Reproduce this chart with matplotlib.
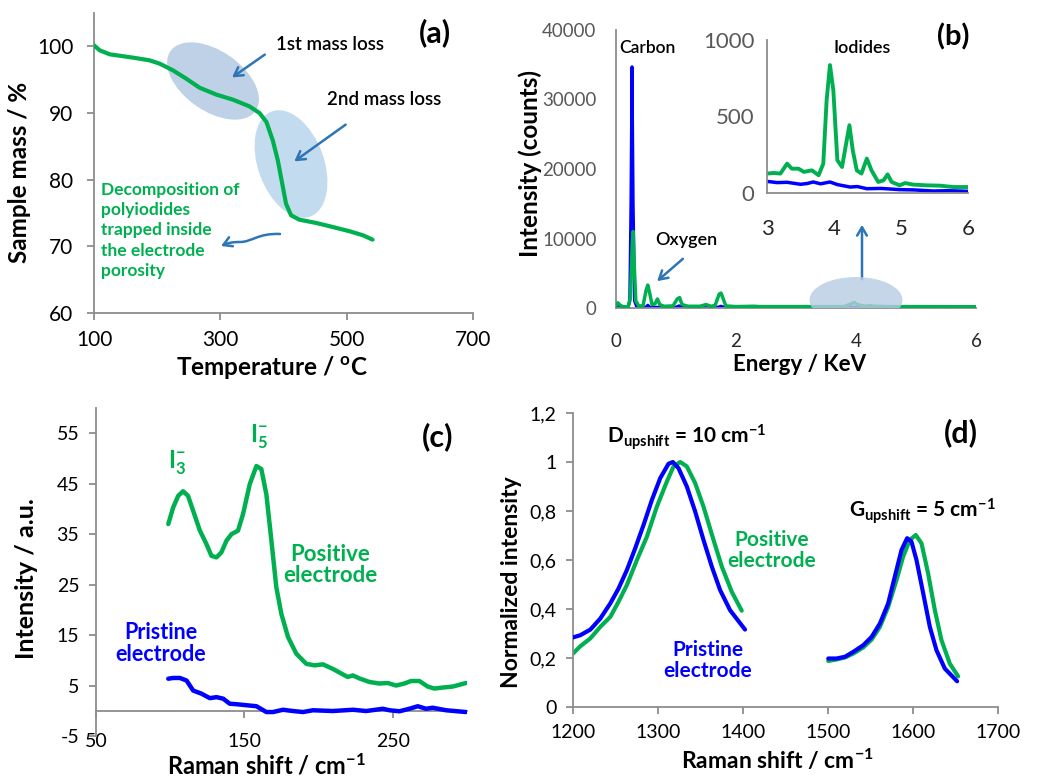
import numpy as np
import matplotlib
matplotlib.use('Agg')
import matplotlib.pyplot as plt
from matplotlib.patches import Ellipse, FancyArrowPatch
from matplotlib.path import Path
import matplotlib.transforms as mtransforms

plt.rcParams['font.family'] = ['Lato', 'DejaVu Sans']
plt.rcParams['mathtext.fontset'] = 'custom'
plt.rcParams['mathtext.rm'] = 'Lato:bold'
plt.rcParams['mathtext.bf'] = 'Lato:bold'
plt.rcParams['mathtext.it'] = 'Lato:bold'
plt.rcParams['mathtext.default'] = 'bf'
plt.rcParams['axes.unicode_minus'] = False

GREEN = '#00B050'
BLUE = '#0000FF'
ARROW = '#2E75B6'
SPINE = '#8C8C8C'

# (a) TGA
tga_temp = [100, 109, 125, 162, 188, 204, 225, 246, 267, 294, 320, 346, 362, 373,
            383, 391, 399, 404, 412, 425, 452, 478, 505, 526, 541]
tga_mass = [100.15, 99.4, 98.8, 98.3, 97.9, 97.4, 96.4, 95.15, 93.8, 92.75, 92.0, 91.0,
            90.0, 88.65, 85.9, 82.9, 78.9, 76.4, 74.65, 74.0, 73.5, 72.9, 72.25, 71.65, 71.0]

# (b) EDX spectra
edx_e_pos = [0.0, 0.03, 0.07, 0.12, 0.2, 0.24, 0.27, 0.285, 0.3, 0.33, 0.38, 0.45, 0.5,
             0.53, 0.56, 0.6, 0.65, 0.69, 0.73, 0.8, 0.95, 1.02, 1.06, 1.1, 1.2, 1.4,
             1.5, 1.58, 1.65, 1.72, 1.75, 1.78, 1.83, 2.0, 2.3, 2.4, 3.0, 3.8, 3.92,
             3.97, 4.02, 4.15, 4.24, 4.32, 4.5, 6.0]
edx_c_pos = [300, 750, 400, 150, 150, 1500, 9000, 11000, 7000, 1000, 300, 300, 2500,
             3300, 2200, 500, 600, 1300, 500, 250, 300, 1300, 1500, 500, 250, 250,
             500, 250, 350, 2000, 2150, 1500, 300, 200, 250, 200, 200, 200, 600,
             800, 500, 250, 350, 250, 200, 180]
edx_e_pri = [0.0, 0.03, 0.07, 0.2, 0.23, 0.25, 0.267, 0.285, 0.31, 0.35, 0.5, 0.53,
             0.56, 1.0, 1.05, 1.1, 1.7, 1.75, 1.8, 3.9, 3.95, 4.0, 6.0]
edx_c_pri = [200, 400, 200, 100, 1000, 15000, 34700, 15000, 1000, 100, 100, 400,
             100, 100, 300, 100, 100, 250, 100, 60, 120, 60, 50]

ins_e_pos = [3.0, 3.1, 3.2, 3.3, 3.37, 3.47, 3.55, 3.67, 3.77, 3.84, 3.89, 3.94, 3.99,
             4.05, 4.12, 4.19, 4.23, 4.28, 4.34, 4.41, 4.49, 4.56, 4.66, 4.74, 4.8,
             4.86, 4.98, 5.06, 5.18, 5.38, 5.58, 5.78, 6.0]
ins_c_pos = [127, 131, 127, 192, 159, 159, 138, 148, 116, 192, 607, 836, 672,
             214, 170, 345, 443, 279, 148, 127, 225, 148, 72, 83, 122,
             72, 50, 65, 55, 50, 48, 39, 39]
ins_e_pri = [3.0, 3.15, 3.3, 3.5, 3.6, 3.69, 3.8, 3.94, 4.05, 4.24, 4.35, 4.49, 4.7,
             4.98, 5.2, 5.48, 5.7, 6.0]
ins_c_pri = [76, 68, 70, 57, 62, 72, 60, 72, 55, 39, 42, 28, 30, 22, 20, 13, 15, 11]

# (c) low-frequency Raman
ram_c_pos_x = [98.7, 102, 105.4, 108.7, 112, 116.6, 120, 124.4, 127.8, 131.2, 134.5,
               137.9, 141.3, 145.7, 149.1, 153.6, 158.1, 161.4, 164.8, 168.2, 171.5,
               174.9, 179.4, 185, 191.7, 197.3, 202.9, 209.6, 216.4, 219.7, 223.1,
               227.6, 234.3, 241, 246.6, 252.2, 257.8, 262.3, 267.9, 273.5, 278,
               283.6, 290.4, 299.3]
ram_c_pos_y = [37.0, 40.3, 42.6, 43.5, 42.6, 38.65, 35.7, 33.05, 30.7, 30.4, 31.4,
               33.7, 35.0, 35.7, 39.0, 44.9, 48.5, 47.9, 42.9, 33.7, 24.5,
               19.2, 14.6, 11.3, 9.3, 9.0, 9.2, 8.3, 7.2, 6.7, 7.0,
               6.4, 5.7, 5.4, 5.5, 5.0, 5.4, 5.9, 5.9, 4.8, 4.4,
               4.6, 4.8, 5.5]
ram_c_pri_x = [98.7, 102, 106.5, 111, 115.5, 121, 126.7, 131.2, 135.7, 140.1, 144.6,
               151.3, 158.1, 164.8, 169.3, 176, 182.7, 189.5, 196.2, 209.6, 223.1,
               232.1, 243.3, 247.8, 254.5, 261.2, 266.8, 272.4, 276.9, 285.9, 299.3]
ram_c_pri_y = [6.35, 6.5, 6.5, 6.0, 4.0, 3.4, 2.5, 2.7, 2.4, 1.4, 1.3,
               1.1, 0.9, -0.25, -0.25, 0.2, -0.05, -0.25, 0.1, -0.05, 0.2,
               -0.05, 0.4, 0.1, -0.1, 0.4, 0.9, 0.4, 0.6, 0.1, -0.25]

# (d) D and G bands
d_pri_x = [1200, 1208.6, 1220.4, 1232.1, 1243.9, 1253.6, 1263.4, 1273.2, 1283, 1292.8,
           1302.6, 1312.4, 1317.5, 1324.1, 1333.9, 1343.7, 1353.5, 1363.3, 1373.1,
           1384.8, 1402.4]
d_pri_y = [0.284, 0.293, 0.316, 0.361, 0.423, 0.484, 0.559, 0.648, 0.743, 0.845,
           0.934, 0.993, 1.0, 0.975, 0.9, 0.798, 0.682, 0.573, 0.477, 0.395, 0.316]
d_pos_x = [1200, 1208.6, 1220.4, 1232.1, 1243.9, 1253.6, 1263.4, 1275.2, 1286.9, 1298.7,
           1310.4, 1318.3, 1326.1, 1333.9, 1343.7, 1353.5, 1365.3, 1375.1, 1386.8, 1398.5]
d_pos_y = [0.218, 0.248, 0.28, 0.327, 0.368, 0.43, 0.498, 0.6, 0.695, 0.818,
           0.92, 0.982, 1.0, 0.982, 0.914, 0.818, 0.682, 0.573, 0.47, 0.393]
g_pri_x = [1500.3, 1510.1, 1519.9, 1529.7, 1541.4, 1551.3, 1561.1, 1570.8, 1578.6,
           1586.5, 1593.1, 1598.2, 1604.1, 1612, 1619.8, 1627.6, 1637.4, 1651.9]
g_pri_y = [0.198, 0.198, 0.205, 0.225, 0.252, 0.286, 0.341, 0.423, 0.532,
           0.641, 0.689, 0.675, 0.6, 0.464, 0.327, 0.232, 0.157, 0.105]
g_pos_x = [1500.3, 1510.1, 1519.9, 1529.7, 1541.4, 1551.3, 1561.1, 1570.8, 1580.6,
           1588.4, 1596.3, 1603.3, 1610, 1617.8, 1625.7, 1633.5, 1643.3, 1653.1]
g_pos_y = [0.188, 0.194, 0.202, 0.218, 0.243, 0.275, 0.327, 0.409, 0.518,
           0.614, 0.682, 0.702, 0.668, 0.545, 0.395, 0.273, 0.177, 0.125]

W, H = 1052, 779
fig = plt.figure(figsize=(W / 100, H / 100), dpi=100)


def box(l, r, t, b):
    return [l / W, 1 - b / H, (r - l) / W, (b - t) / H]


def style(ax, visible=('left', 'bottom')):
    for s in ax.spines:
        ax.spines[s].set_visible(s in visible)
        ax.spines[s].set_color(SPINE)
        ax.spines[s].set_linewidth(1.3)


def blob(ax, x, y, w, h, angle, color, alpha, z):
    tr = fig.dpi_scale_trans + mtransforms.ScaledTranslation(x, y, ax.transData)
    e = Ellipse((0, 0), w / 100, h / 100, angle=angle, transform=tr,
                facecolor=color, edgecolor='none', alpha=alpha, zorder=z)
    ax.add_patch(e)


def arrow(ax, xy, xytext):
    ax.annotate('', xy=xy, xytext=xytext,
                arrowprops=dict(arrowstyle='->,head_length=0.6,head_width=0.35',
                                color=ARROW, lw=1.8))


# ---------- (a) ----------
ax = fig.add_axes(box(94, 473, 13, 313))
style(ax)
ax.plot(tga_temp, tga_mass, color=GREEN, lw=3, solid_capstyle='round', zorder=3)
ax.set_xlim(100, 700)
ax.set_ylim(60, 105)
ax.set_xticks([100, 300, 500, 700])
ax.set_yticks([60, 70, 80, 90, 100])
ax.tick_params(direction='out', length=5, width=1.3, color=SPINE, labelsize=15, pad=7)
ax.tick_params(axis='y', pad=10)
ax.set_xlabel('Temperature / $^{o}$C', fontsize=17.5, fontweight='bold')
ax.set_ylabel('Sample mass / %', fontsize=17.5, fontweight='bold')
ax.xaxis.set_label_coords(0.47, -0.135)
ax.yaxis.set_label_coords(-0.165, 0.467)
blob(ax, 288.4, 94.8, 104, 60, -35, '#B8CCE4', 0.9, 1)
blob(ax, 411.9, 82.35, 112, 66, -70, '#BDD7EE', 0.9, 1)
ax.text(473, 100.35, '1st mass loss', ha='center', va='center', fontsize=13.5, fontweight='semibold')
ax.text(559, 92, '2nd mass loss', ha='center', va='center', fontsize=13.5, fontweight='semibold')
ax.text(640, 102, '(a)', ha='center', va='center', fontsize=22, fontweight='bold')
arrow(ax, (315, 95.1), (374, 99))
arrow(ax, (413.5, 82.5), (502, 88.5))
ax.text(111, 79.7, 'Decomposition of\npolyiodides\ntrapped inside\nthe electrode\nporosity',
        ha='left', va='top', color=GREEN, fontsize=12.5, fontweight='bold', linespacing=1.33)


def px(x, y):
    return (x, H - y)


verts = [px(280, 234), px(258, 233), px(252, 242), px(240, 242),
         px(232, 242), px(228, 243), px(221, 246)]
codes = [Path.MOVETO, Path.CURVE4, Path.CURVE4, Path.CURVE4,
         Path.CURVE4, Path.CURVE4, Path.CURVE4]
fig.patches.append(FancyArrowPatch(path=Path(verts, codes), transform=mtransforms.IdentityTransform(),
                                   arrowstyle='->,head_length=6,head_width=3.5', color=ARROW, lw=1.8))

# ---------- (b) ----------
ax = fig.add_axes(box(616, 976, 30, 308))
style(ax)
ax.plot(edx_e_pri, edx_c_pri, color=BLUE, lw=2.3, zorder=2)
ax.plot(edx_e_pos, edx_c_pos, color=GREEN, lw=2.5, zorder=3)
ax.set_xlim(0, 6)
ax.set_ylim(0, 40000)
ax.set_xticks([0, 2, 4, 6])
ax.set_yticks([0, 10000, 20000, 30000, 40000])
ax.tick_params(axis='y', length=0, labelsize=13.5, labelcolor='#595959', pad=14)
ax.tick_params(axis='x', length=0, labelsize=13.5, labelcolor='#262626', pad=18)
ax.set_xlabel('Energy / KeV', fontsize=16, fontweight='bold')
ax.set_ylabel('Intensity (counts)', fontsize=17.5, fontweight='bold')
ax.xaxis.set_label_coords(0.51, -0.165)
ax.yaxis.set_label_coords(-0.205, 0.52)
blob(ax, 4.0, 1150, 93, 46, 0, '#B8CCE4', 0.8, 5)
ax.text(0.52, 37400, 'Carbon', ha='center', va='center', fontsize=12.5, fontweight='semibold')
ax.text(1.17, 9790, 'Oxygen', ha='center', va='center', fontsize=13, fontweight='semibold')
ax.text(5.62, 39000, '(b)', ha='center', va='center', fontsize=21, fontweight='bold')
arrow(ax, (0.65, 3600), (1.15, 7340))
arrow(ax, (4.1, 12375), (4.1, 3740))

ins = fig.add_axes(box(767, 968, 40, 193))
ins.patch.set_alpha(0)
style(ins)
ins.plot(ins_e_pri, ins_c_pri, color=BLUE, lw=2.5)
ins.plot(ins_e_pos, ins_c_pos, color=GREEN, lw=2.8)
ins.set_xlim(3, 6)
ins.set_ylim(0, 1000)
ins.set_xticks([3, 4, 5, 6])
ins.set_yticks([0, 500, 1000])
ins.tick_params(axis='y', length=0, labelsize=16, labelcolor='#595959', pad=9)
ins.tick_params(axis='x', length=0, labelsize=16, labelcolor='#262626', pad=19)
ins.text(4.42, 948, 'Iodides', ha='center', va='center', fontsize=13, fontweight='semibold')

# ---------- (c) ----------
ax = fig.add_axes(box(96, 467, 408, 736))
style(ax)
ax.spines['bottom'].set_position(('data', 0))
ax.plot(ram_c_pos_x, ram_c_pos_y, color=GREEN, lw=3.2, solid_capstyle='round', zorder=3)
ax.plot(ram_c_pri_x, ram_c_pri_y, color=BLUE, lw=3.2, solid_capstyle='round', zorder=3)
ax.set_xlim(50, 300)
ax.set_ylim(-5, 60)
ax.set_xticks([50, 150, 250])
ax.set_yticks([-5, 5, 15, 25, 35, 45, 55])
ax.tick_params(direction='out', length=5, width=1.3, color=SPINE, labelsize=14)
ax.tick_params(axis='y', pad=7)
ax.tick_params(axis='x', pad=11)
ax.set_xlabel('Raman shift / cm$^{-1}$', fontsize=17, fontweight='bold')
ax.set_ylabel('Intensity / a.u.', fontsize=18, fontweight='bold')
ax.xaxis.set_label_coords(0.461, -0.052)
ax.yaxis.set_label_coords(-0.155, 0.479)
ax.text(104.6, 49.1, 'I$_{3}^{-}$', ha='center', va='center', color=GREEN, fontsize=17,
        fontweight='bold')
ax.text(160, 54.3, 'I$_{5}^{-}$', ha='center', va='center', color=GREEN, fontsize=17,
        fontweight='bold')
ax.text(280.5, 54.3, '(c)', ha='center', va='center', fontsize=22, fontweight='bold')
ax.text(207.7, 28.9, 'Positive\nelectrode', ha='center', va='center', color=GREEN,
        fontsize=16, fontweight='bold', linespacing=1.05)
ax.text(93.8, 13.4, 'Pristine\nelectrode', ha='center', va='center', color=BLUE,
        fontsize=15.5, fontweight='bold', linespacing=1.05)

# ---------- (d) ----------
ax = fig.add_axes(box(573, 998, 413, 707))
style(ax)
ax.plot(d_pos_x, d_pos_y, color=GREEN, lw=3, solid_capstyle='round', zorder=2)
ax.plot(d_pri_x, d_pri_y, color=BLUE, lw=3, solid_capstyle='round', zorder=3)
ax.plot(g_pos_x, g_pos_y, color=GREEN, lw=3, solid_capstyle='round', zorder=2)
ax.plot(g_pri_x, g_pri_y, color=BLUE, lw=3, solid_capstyle='round', zorder=3)
ax.set_xlim(1200, 1700)
ax.set_ylim(0, 1.2)
ax.set_xticks([1200, 1300, 1400, 1500, 1600, 1700])
yt = [0, 0.2, 0.4, 0.6, 0.8, 1.0, 1.2]
ax.set_yticks(yt)
ax.set_yticklabels(['0', '0,2', '0,4', '0,6', '0,8', '1', '1,2'])
ax.tick_params(direction='out', length=5, width=1.3, color=SPINE, labelsize=14, pad=7)
ax.set_xlabel('Raman shift / cm$^{-1}$', fontsize=16.5, fontweight='bold')
ax.set_ylabel('Normalized intensity', fontsize=16.5, fontweight='bold')
ax.xaxis.set_label_coords(0.48, -0.14)
ax.yaxis.set_label_coords(-0.12, 0.425)
ax.text(1334, 1.10, 'D$_{upshift}$ = 10 cm$^{-1}$', ha='center', va='center', fontsize=15,
        fontweight='bold')
ax.text(1610.6, 0.80, 'G$_{upshift}$ = 5 cm$^{-1}$', ha='center', va='center', fontsize=15,
        fontweight='bold')
ax.text(1434, 0.64, 'Positive\nelectrode', ha='center', va='center', color=GREEN,
        fontsize=15, fontweight='bold', linespacing=1.05)
ax.text(1358.8, 0.19, 'Pristine\nelectrode', ha='center', va='center', color=BLUE,
        fontsize=15, fontweight='bold', linespacing=1.05)
ax.text(1656.5, 1.12, '(d)', ha='center', va='center', fontsize=22, fontweight='bold')

fig.savefig('out.png', dpi=100)
